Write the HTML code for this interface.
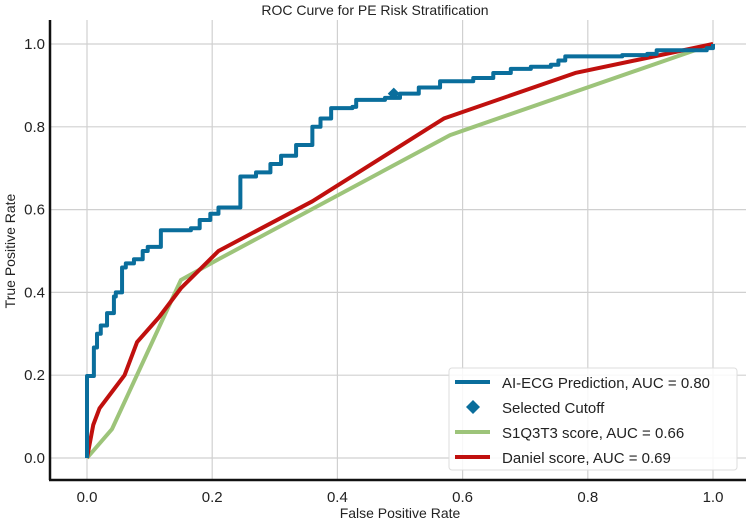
<!DOCTYPE html>
<html><head><meta charset="utf-8"><style>
body{margin:0;background:#fff;}
svg{font-family:"Liberation Sans",sans-serif;display:block;}
</style></head><body>
<svg id="chart" width="750" height="523">
<g id="grid"></g>
<g id="series"></g>
<line x1="50" y1="20" x2="50" y2="480" stroke="#111" stroke-width="2.5"/>
<line x1="49" y1="480" x2="746" y2="480" stroke="#111" stroke-width="2.5"/>
<g id="ticks" font-size="15" fill="#222"></g>
<text x="375" y="15" text-anchor="middle" font-size="14" fill="#222">ROC Curve for PE Risk Stratification</text>
<text x="400" y="518" text-anchor="middle" font-size="14" fill="#222">False Positive Rate</text>
<text x="15" y="251" text-anchor="middle" font-size="14" fill="#222" transform="rotate(-90 15 251)">True Positive Rate</text>
<g>
<rect x="449" y="368" width="288" height="102" rx="3" fill="#fff" fill-opacity="0.85" stroke="#ddd"/>
<line x1="455" y1="382" x2="490" y2="382" stroke="#0a6e9c" stroke-width="4"/>
<text x="502" y="388" font-size="15" fill="#222">AI-ECG Prediction, AUC = 0.80</text>
<path d="M473 400 L480 407 L473 414 L466 407 Z" fill="#0a6e9c"/>
<text x="502" y="413" font-size="15" fill="#222">Selected Cutoff</text>
<line x1="455" y1="432" x2="490" y2="432" stroke="#9dc47a" stroke-width="4"/>
<text x="502" y="438" font-size="15" fill="#222">S1Q3T3 score, AUC = 0.66</text>
<line x1="455" y1="457" x2="490" y2="457" stroke="#c0100e" stroke-width="4"/>
<text x="502" y="463" font-size="15" fill="#222">Daniel score, AUC = 0.69</text>
</g>
</svg>
<script>
const tickValues=[0,0.2,0.4,0.6,0.8,1.0];
const tickLabels=["0.0","0.2","0.4","0.6","0.8","1.0"];
const aiFpr=[0,0,0.011,0.016,0.022,0.032,0.043,0.046,0.056,0.062,0.075,0.089,0.097,0.118,0.166,0.18,0.197,0.21,0.245,0.27,0.293,0.31,0.334,0.36,0.373,0.39,0.424,0.43,0.476,0.5,0.53,0.564,0.617,0.649,0.677,0.709,0.741,0.753,0.764,0.855,0.895,0.91,0.99,1.0];
const aiTpr=[0,0.198,0.267,0.30,0.32,0.35,0.39,0.40,0.46,0.47,0.48,0.50,0.51,0.55,0.555,0.575,0.59,0.605,0.68,0.69,0.71,0.73,0.756,0.80,0.82,0.845,0.848,0.865,0.87,0.88,0.895,0.91,0.918,0.93,0.94,0.945,0.95,0.96,0.97,0.973,0.976,0.985,0.99,1.0];
const danFpr=[0,0.01,0.02,0.04,0.06,0.08,0.115,0.15,0.21,0.36,0.57,0.78,1];
const danTpr=[0,0.08,0.12,0.16,0.2,0.28,0.34,0.41,0.5,0.62,0.82,0.93,1];
const s1Fpr=[0,0.04,0.15,0.21,0.58,1];
const s1Tpr=[0,0.07,0.43,0.48,0.78,1];
const cutoffFpr=[0.49];
const cutoffTpr=[0.88];
const NS='http://www.w3.org/2000/svg';
const X=v=>87+v*626, Y=v=>458-v*414;
const grid=document.getElementById('grid'),ticks=document.getElementById('ticks'),series=document.getElementById('series');
function mk(tag,attrs,parent){const e=document.createElementNS(NS,tag);for(const k in attrs)e.setAttribute(k,attrs[k]);parent.appendChild(e);return e;}
tickValues.forEach((v,i)=>{
 const gx=mk('line',{x1:X(v),x2:X(v),y1:20,y2:480,stroke:'#d0d0d0','stroke-width':1.2},grid);
 
 
 const gy=mk('line',{x1:50,x2:746,y1:Y(v),y2:Y(v),stroke:'#d0d0d0','stroke-width':1.2},grid);
 
 
 const tx=mk('text',{x:X(v),y:502,'text-anchor':'middle'},ticks);tx.textContent=tickLabels[i];
 
 
 const ty=mk('text',{x:45,y:Y(v)+5,'text-anchor':'end'},ticks);ty.textContent=tickLabels[i];
 
 
});
function line(fx,fy,color,step){
 let d='';
 for(let i=0;i<fx.length;i++){
  if(i===0)d='M'+X(fx[0])+' '+Y(fy[0]);
  else if(step)d+=' L'+X(fx[i])+' '+Y(fy[i-1])+' L'+X(fx[i])+' '+Y(fy[i]);
  else d+=' L'+X(fx[i])+' '+Y(fy[i]);
 }
 return mk('path',{d:d,fill:'none',stroke:color,'stroke-width':4,'stroke-linejoin':'round'},series);
}
const s1=line(s1Fpr,s1Tpr,'#9dc47a',false);


const dn=line(danFpr,danTpr,'#c0100e',false);


const ai=line(aiFpr,aiTpr,'#0a6e9c',true);


cutoffFpr.forEach((f,i)=>{
 const cx=X(f),cy=Y(cutoffTpr[i]);
 const m=mk('path',{d:`M${cx} ${cy-6} L${cx+6} ${cy} L${cx} ${cy+6} L${cx-6} ${cy} Z`,fill:'#0a6e9c'},series);
 
 
});
</script>
</body></html>
